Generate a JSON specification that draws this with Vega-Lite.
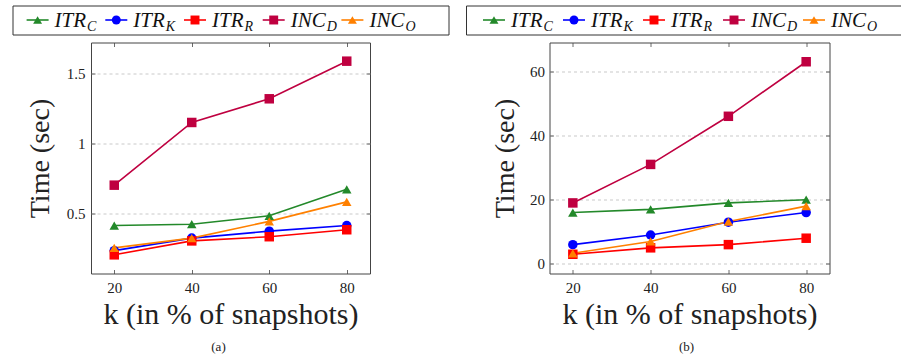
{
  "$schema": "https://vega.github.io/schema/vega-lite/v6.json",
  "padding": {"left": 6.5, "top": 4.5, "right": 0, "bottom": 0},
  "datasets": {
    "main": [
      {"panel": "a", "series": "ITR_C", "k": 20, "time": 0.41},
      {"panel": "a", "series": "ITR_C", "k": 40, "time": 0.42},
      {"panel": "a", "series": "ITR_C", "k": 60, "time": 0.48},
      {"panel": "a", "series": "ITR_C", "k": 80, "time": 0.67},
      {"panel": "a", "series": "ITR_K", "k": 20, "time": 0.23},
      {"panel": "a", "series": "ITR_K", "k": 40, "time": 0.32},
      {"panel": "a", "series": "ITR_K", "k": 60, "time": 0.37},
      {"panel": "a", "series": "ITR_K", "k": 80, "time": 0.41},
      {"panel": "a", "series": "ITR_R", "k": 20, "time": 0.20},
      {"panel": "a", "series": "ITR_R", "k": 40, "time": 0.30},
      {"panel": "a", "series": "ITR_R", "k": 60, "time": 0.33},
      {"panel": "a", "series": "ITR_R", "k": 80, "time": 0.38},
      {"panel": "a", "series": "INC_D", "k": 20, "time": 0.70},
      {"panel": "a", "series": "INC_D", "k": 40, "time": 1.15},
      {"panel": "a", "series": "INC_D", "k": 60, "time": 1.32},
      {"panel": "a", "series": "INC_D", "k": 80, "time": 1.59},
      {"panel": "a", "series": "INC_O", "k": 20, "time": 0.25},
      {"panel": "a", "series": "INC_O", "k": 40, "time": 0.32},
      {"panel": "a", "series": "INC_O", "k": 60, "time": 0.44},
      {"panel": "a", "series": "INC_O", "k": 80, "time": 0.58},
      {"panel": "b", "series": "ITR_C", "k": 20, "time": 16},
      {"panel": "b", "series": "ITR_C", "k": 40, "time": 17},
      {"panel": "b", "series": "ITR_C", "k": 60, "time": 19},
      {"panel": "b", "series": "ITR_C", "k": 80, "time": 20},
      {"panel": "b", "series": "ITR_K", "k": 20, "time": 6},
      {"panel": "b", "series": "ITR_K", "k": 40, "time": 9},
      {"panel": "b", "series": "ITR_K", "k": 60, "time": 13},
      {"panel": "b", "series": "ITR_K", "k": 80, "time": 16},
      {"panel": "b", "series": "ITR_R", "k": 20, "time": 3},
      {"panel": "b", "series": "ITR_R", "k": 40, "time": 5},
      {"panel": "b", "series": "ITR_R", "k": 60, "time": 6},
      {"panel": "b", "series": "ITR_R", "k": 80, "time": 8},
      {"panel": "b", "series": "INC_D", "k": 20, "time": 19},
      {"panel": "b", "series": "INC_D", "k": 40, "time": 31},
      {"panel": "b", "series": "INC_D", "k": 60, "time": 46},
      {"panel": "b", "series": "INC_D", "k": 80, "time": 63},
      {"panel": "b", "series": "INC_O", "k": 20, "time": 3.3},
      {"panel": "b", "series": "INC_O", "k": 40, "time": 7},
      {"panel": "b", "series": "INC_O", "k": 60, "time": 13.2},
      {"panel": "b", "series": "INC_O", "k": 80, "time": 18}
    ],
    "legend": [
      {"series": "ITR_C", "base": "ITR", "sub": "C"},
      {"series": "ITR_K", "base": "ITR", "sub": "K"},
      {"series": "ITR_R", "base": "ITR", "sub": "R"},
      {"series": "INC_D", "base": "INC", "sub": "D"},
      {"series": "INC_O", "base": "INC", "sub": "O"}
    ]
  },
  "spacing": 15.5,
  "hconcat": [
    {
      "spacing": 8,
      "bounds": "flush",
      "center": true,
      "vconcat": [
        {
          "width": 436, "height": 29,
          "view": {"stroke": "#333", "strokeWidth": 1},
          "data": {"name": "legend"},
          "encoding": {
            "x": {"field": "series", "type": "nominal", "sort": ["ITR_C","ITR_K","ITR_R","INC_D","INC_O"], "scale": {"padding": 0.54}, "axis": null},
            "y": {"datum": 0, "type": "quantitative", "scale": {"domain": [-1, 1]}, "axis": null}
          },
          "layer": [
            {"mark": {"type": "rule", "strokeWidth": 1.6, "xOffset": -46.5, "x2Offset": -24.5},
             "encoding": {
               "x2": {"field": "series"},
               "color": {"field": "series", "type": "nominal", "scale": {"domain": ["ITR_C","ITR_K","ITR_R","INC_D","INC_O"], "range": ["#23892a","#0000ff","#ff0000","#bf0040","#ff8000"]}, "legend": null}}},
            {"mark": {"type": "point", "filled": true, "opacity": 1, "size": 80, "xOffset": -35.5},
             "encoding": {
               "shape": {"field": "series", "type": "nominal", "scale": {"domain": ["ITR_C","ITR_K","ITR_R","INC_D","INC_O"], "range": ["triangle-up","circle","square","square","triangle-up"]}, "legend": null},
               "color": {"field": "series", "type": "nominal", "scale": {"domain": ["ITR_C","ITR_K","ITR_R","INC_D","INC_O"], "range": ["#23892a","#0000ff","#ff0000","#bf0040","#ff8000"]}, "legend": null}}},
            {"mark": {"type": "text", "align": "left", "baseline": "alphabetic", "dx": -18.5, "dy": 7, "fontStyle": "italic", "fontSize": 21, "color": "#111"},
             "encoding": {"text": {"field": "base"}}},
            {"transform": [{"filter": "datum.base === 'ITR'"}],
             "mark": {"type": "text", "align": "left", "baseline": "alphabetic", "dx": 14, "dy": 10.5, "fontStyle": "italic", "fontSize": 14, "color": "#111"},
             "encoding": {"text": {"field": "sub"}}},
            {"transform": [{"filter": "datum.base === 'INC'"}],
             "mark": {"type": "text", "align": "left", "baseline": "alphabetic", "dx": 17.5, "dy": 10.5, "fontStyle": "italic", "fontSize": 14, "color": "#111"},
             "encoding": {"text": {"field": "sub"}}}
          ]
        },
        {
          "width": 279, "height": 231,
          "data": {"name": "main"},
          "transform": [{"filter": "datum.panel === 'a'"}],
          "title": {"text": "(a)", "orient": "bottom", "anchor": "middle", "frame": "group", "dx": -12, "offset": 11, "fontSize": 13, "fontWeight": "normal", "color": "#222"},
          "layer": [
            {"mark": {"type": "line", "strokeWidth": 1.6},
             "encoding": {
               "x": {"field": "k", "type": "quantitative", "scale": {"domain": [14, 86], "nice": false, "zero": false},
                     "axis": {"orient": "bottom", "values": [20, 40, 60, 80], "title": "k (in % of snapshots)", "titleFontSize": 30, "labelPadding": 11, "titlePadding": 4}},
               "y": {"field": "time", "type": "quantitative", "scale": {"domain": [0.066, 1.724], "nice": false, "zero": false},
                     "axis": {"orient": "left", "values": [0.5, 1, 1.5], "format": "~g", "title": "Time (sec)", "titleX": -43, "titleBaseline": "alphabetic", "minExtent": 83.5, "grid": true, "gridColor": "#bbbbbb", "gridDash": [3, 3], "gridWidth": 0.8, "labelPadding": 10}},
               "color": {"field": "series", "type": "nominal", "scale": {"domain": ["ITR_C","ITR_K","ITR_R","INC_D","INC_O"], "range": ["#23892a","#0000ff","#ff0000","#bf0040","#ff8000"]}, "legend": null}}},
            {"mark": {"type": "point", "filled": true, "opacity": 1, "size": 90},
             "encoding": {
               "x": {"field": "k", "type": "quantitative", "scale": {"domain": [14, 86], "nice": false, "zero": false},
                     "axis": {"orient": "top", "values": [20, 40, 60, 80], "labels": false, "title": null}},
               "y": {"field": "time", "type": "quantitative", "scale": {"domain": [0.066, 1.724], "nice": false, "zero": false},
                     "axis": {"orient": "right", "values": [0.5, 1, 1.5], "labels": false, "title": null}},
               "shape": {"field": "series", "type": "nominal", "scale": {"domain": ["ITR_C","ITR_K","ITR_R","INC_D","INC_O"], "range": ["triangle-up","circle","square","square","triangle-up"]}, "legend": null},
               "color": {"field": "series", "type": "nominal", "scale": {"domain": ["ITR_C","ITR_K","ITR_R","INC_D","INC_O"], "range": ["#23892a","#0000ff","#ff0000","#bf0040","#ff8000"]}, "legend": null}}}
          ],
          "resolve": {"axis": {"x": "independent", "y": "independent"}}
        }
      ]
    },
    {
      "spacing": 8,
      "bounds": "flush",
      "center": true,
      "vconcat": [
        {
          "width": 447, "height": 29,
          "view": {"stroke": "#333", "strokeWidth": 1},
          "data": {"name": "legend"},
          "encoding": {
            "x": {"field": "series", "type": "nominal", "sort": ["ITR_C","ITR_K","ITR_R","INC_D","INC_O"], "scale": {"padding": 0.587}, "axis": null},
            "y": {"datum": 0, "type": "quantitative", "scale": {"domain": [-1, 1]}, "axis": null}
          },
          "layer": [
            {"mark": {"type": "rule", "strokeWidth": 1.6, "xOffset": -46.5, "x2Offset": -24.5},
             "encoding": {
               "x2": {"field": "series"},
               "color": {"field": "series", "type": "nominal", "scale": {"domain": ["ITR_C","ITR_K","ITR_R","INC_D","INC_O"], "range": ["#23892a","#0000ff","#ff0000","#bf0040","#ff8000"]}, "legend": null}}},
            {"mark": {"type": "point", "filled": true, "opacity": 1, "size": 80, "xOffset": -35.5},
             "encoding": {
               "shape": {"field": "series", "type": "nominal", "scale": {"domain": ["ITR_C","ITR_K","ITR_R","INC_D","INC_O"], "range": ["triangle-up","circle","square","square","triangle-up"]}, "legend": null},
               "color": {"field": "series", "type": "nominal", "scale": {"domain": ["ITR_C","ITR_K","ITR_R","INC_D","INC_O"], "range": ["#23892a","#0000ff","#ff0000","#bf0040","#ff8000"]}, "legend": null}}},
            {"mark": {"type": "text", "align": "left", "baseline": "alphabetic", "dx": -18.5, "dy": 7, "fontStyle": "italic", "fontSize": 21, "color": "#111"},
             "encoding": {"text": {"field": "base"}}},
            {"transform": [{"filter": "datum.base === 'ITR'"}],
             "mark": {"type": "text", "align": "left", "baseline": "alphabetic", "dx": 14, "dy": 10.5, "fontStyle": "italic", "fontSize": 14, "color": "#111"},
             "encoding": {"text": {"field": "sub"}}},
            {"transform": [{"filter": "datum.base === 'INC'"}],
             "mark": {"type": "text", "align": "left", "baseline": "alphabetic", "dx": 17.5, "dy": 10.5, "fontStyle": "italic", "fontSize": 14, "color": "#111"},
             "encoding": {"text": {"field": "sub"}}}
          ]
        },
        {
          "width": 280, "height": 231,
          "data": {"name": "main"},
          "transform": [{"filter": "datum.panel === 'b'"}],
          "title": {"text": "(b)", "orient": "bottom", "anchor": "middle", "frame": "group", "dx": -3, "offset": 11, "fontSize": 13, "fontWeight": "normal", "color": "#222"},
          "layer": [
            {"mark": {"type": "line", "strokeWidth": 1.6},
             "encoding": {
               "x": {"field": "k", "type": "quantitative", "scale": {"domain": [14, 86], "nice": false, "zero": false},
                     "axis": {"orient": "bottom", "values": [20, 40, 60, 80], "title": "k (in % of snapshots)", "titleFontSize": 30, "labelPadding": 11, "titlePadding": 4}},
               "y": {"field": "time", "type": "quantitative", "scale": {"domain": [-3, 69], "nice": false, "zero": false},
                     "axis": {"orient": "left", "values": [0, 20, 40, 60], "title": "Time (sec)", "titleX": -36, "titleBaseline": "alphabetic", "minExtent": 83.5, "grid": true, "gridColor": "#bbbbbb", "gridDash": [3, 3], "gridWidth": 0.8, "labelPadding": 9}},
               "color": {"field": "series", "type": "nominal", "scale": {"domain": ["ITR_C","ITR_K","ITR_R","INC_D","INC_O"], "range": ["#23892a","#0000ff","#ff0000","#bf0040","#ff8000"]}, "legend": null}}},
            {"mark": {"type": "point", "filled": true, "opacity": 1, "size": 90},
             "encoding": {
               "x": {"field": "k", "type": "quantitative", "scale": {"domain": [14, 86], "nice": false, "zero": false},
                     "axis": {"orient": "top", "values": [20, 40, 60, 80], "labels": false, "title": null}},
               "y": {"field": "time", "type": "quantitative", "scale": {"domain": [-3, 69], "nice": false, "zero": false},
                     "axis": {"orient": "right", "values": [0, 20, 40, 60], "labels": false, "title": null}},
               "shape": {"field": "series", "type": "nominal", "scale": {"domain": ["ITR_C","ITR_K","ITR_R","INC_D","INC_O"], "range": ["triangle-up","circle","square","square","triangle-up"]}, "legend": null},
               "color": {"field": "series", "type": "nominal", "scale": {"domain": ["ITR_C","ITR_K","ITR_R","INC_D","INC_O"], "range": ["#23892a","#0000ff","#ff0000","#bf0040","#ff8000"]}, "legend": null}}}
          ],
          "resolve": {"axis": {"x": "independent", "y": "independent"}}
        }
      ]
    }
  ],
  "config": {
    "font": "Liberation Serif, DejaVu Serif, serif",
    "view": {"stroke": "#444", "strokeWidth": 1},
    "text": {"font": "Liberation Serif, DejaVu Serif, serif"},
    "title": {"font": "Liberation Serif, DejaVu Serif, serif"},
    "axis": {
      "labelFont": "Liberation Serif, DejaVu Serif, serif", "labelFontSize": 15, "labelColor": "#222",
      "titleFont": "Liberation Serif, DejaVu Serif, serif", "titleFontSize": 28, "titleFontWeight": "normal", "titleColor": "#222",
      "tickColor": "#444", "tickSize": -4, "tickWidth": 0.8, "domain": false, "grid": false
    }
  }
}
